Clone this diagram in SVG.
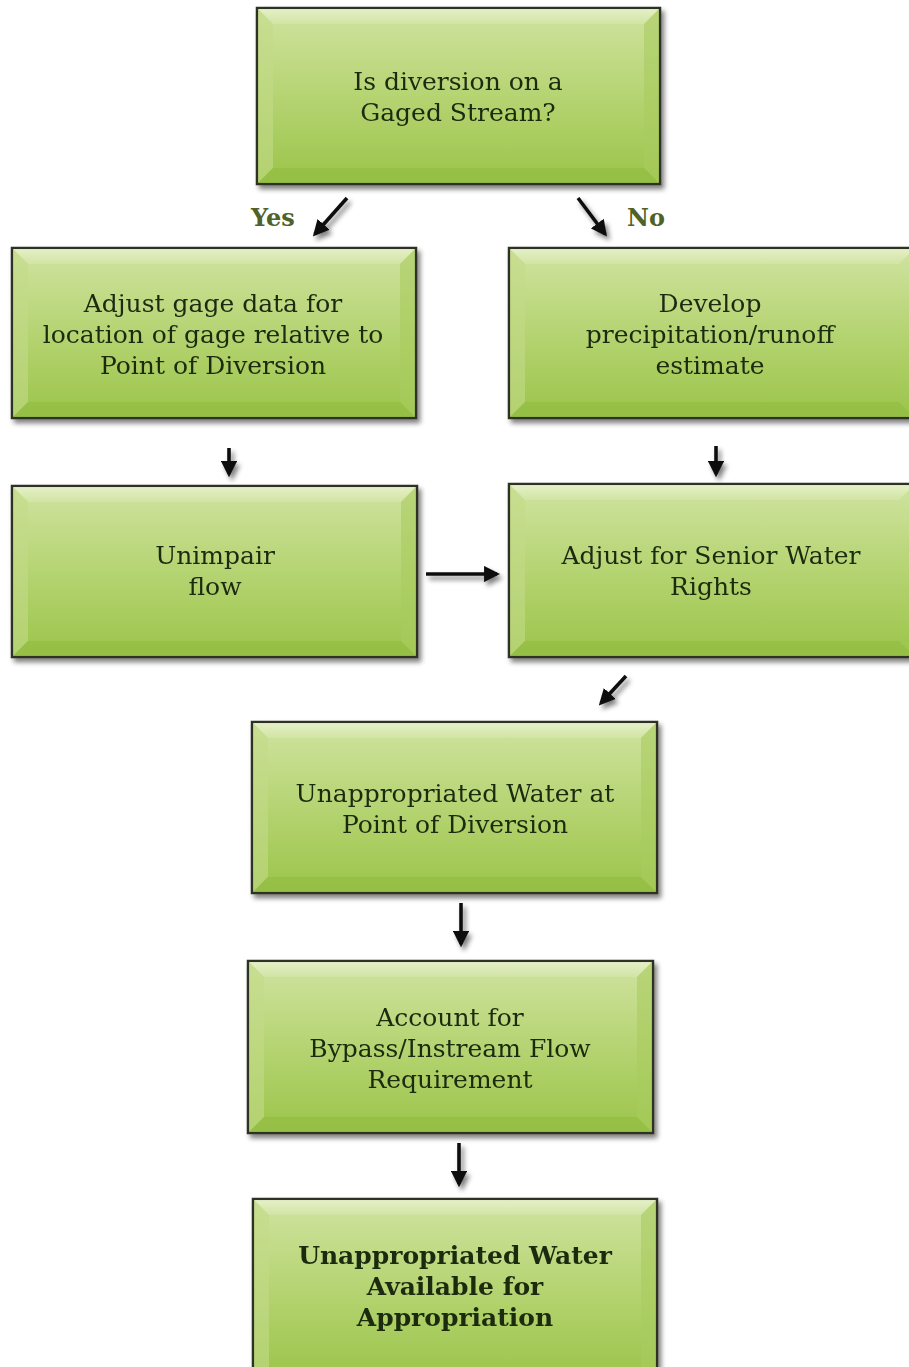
<svg xmlns="http://www.w3.org/2000/svg" width="909" height="1367" viewBox="0 0 909 1367">
<defs>
<linearGradient id="g" x1="0" y1="0" x2="0" y2="1">
<stop offset="0" stop-color="#d0e3a0"/>
<stop offset="0.5" stop-color="#b5d472"/>
<stop offset="1" stop-color="#9cc44a"/>
</linearGradient>
<linearGradient id="gt" x1="0" y1="0" x2="0" y2="1">
<stop offset="0" stop-color="#e8f2cd"/>
<stop offset="1" stop-color="#d3e5a6"/>
</linearGradient>
<filter id="sh" x="-5%" y="-5%" width="115%" height="120%">
<feGaussianBlur in="SourceAlpha" stdDeviation="2.5"/>
<feOffset dx="3" dy="4" result="b"/>
<feComponentTransfer><feFuncA type="linear" slope="0.5"/></feComponentTransfer>
<feMerge><feMergeNode/><feMergeNode in="SourceGraphic"/></feMerge>
</filter>
<marker id="ah" viewBox="0 0 10 10" refX="8" refY="5" markerWidth="4.5" markerHeight="4.5" orient="auto" markerUnits="strokeWidth">
<path d="M0,0 L10,5 L0,10 z" fill="#111"/>
</marker>
</defs>
<style>
.box{fill:url(#g);stroke:#2e3326;stroke-width:2.5}
.top{fill:url(#gt);opacity:0.85}
.lft{fill:#c3db88;opacity:0.6}
.rgt{fill:#a9cc5f;opacity:0.6}
.bot{fill:#93bd42;opacity:0.7}
.t{font-family:"DejaVu Serif","Liberation Serif",serif;font-size:25px;fill:#1c2a10;text-anchor:middle}
.b{font-weight:bold}
.lbl{font-family:"DejaVu Serif","Liberation Serif",serif;font-size:24px;font-weight:bold;fill:#4f6228}
.c{stroke:#111;stroke-width:3.6;fill:none;marker-end:url(#ah)}
</style>

<g id="n1" filter="url(#sh)">
<rect class="box" x="257" y="8" width="403" height="176"/>
<polygon class="top" points="258,9 659,9 644,24 273,24"/>
<polygon class="lft" points="258,9 273,24 273,168 258,183"/>
<polygon class="rgt" points="659,9 644,24 644,168 659,183"/>
<polygon class="bot" points="258,183 273,168 644,168 659,183"/>
<text class="t" x="458" y="90">Is diversion on a</text>
<text class="t" x="458" y="121">Gaged Stream?</text>
</g>

<g id="n2" filter="url(#sh)">
<rect class="box" x="12" y="248" width="404" height="170"/>
<polygon class="top" points="13,249 415,249 400,264 28,264"/>
<polygon class="lft" points="13,249 28,264 28,402 13,417"/>
<polygon class="rgt" points="415,249 400,264 400,402 415,417"/>
<polygon class="bot" points="13,417 28,402 400,402 415,417"/>
<text class="t" x="213" y="312">Adjust gage data for</text>
<text class="t" x="213" y="343">location of gage relative to</text>
<text class="t" x="213" y="374">Point of Diversion</text>
</g>

<g id="n3" filter="url(#sh)">
<rect class="box" x="509" y="248" width="406" height="170"/>
<polygon class="top" points="510,249 914,249 899,264 525,264"/>
<polygon class="lft" points="510,249 525,264 525,402 510,417"/>
<polygon class="bot" points="510,417 525,402 899,402 914,417"/>
<text class="t" x="710" y="312">Develop</text>
<text class="t" x="710" y="343">precipitation/runoff</text>
<text class="t" x="710" y="374">estimate</text>
</g>

<g id="n4" filter="url(#sh)">
<rect class="box" x="12" y="486" width="405" height="171"/>
<polygon class="top" points="13,487 416,487 401,502 28,502"/>
<polygon class="lft" points="13,487 28,502 28,641 13,656"/>
<polygon class="rgt" points="416,487 401,502 401,641 416,656"/>
<polygon class="bot" points="13,656 28,641 401,641 416,656"/>
<text class="t" x="215" y="564">Unimpair</text>
<text class="t" x="215" y="595">flow</text>
</g>

<g id="n5" filter="url(#sh)">
<rect class="box" x="509" y="484" width="406" height="173"/>
<polygon class="top" points="510,485 914,485 899,500 525,500"/>
<polygon class="lft" points="510,485 525,500 525,641 510,656"/>
<polygon class="bot" points="510,656 525,641 899,641 914,656"/>
<text class="t" x="711" y="564">Adjust for Senior Water</text>
<text class="t" x="711" y="595">Rights</text>
</g>

<g id="n6" filter="url(#sh)">
<rect class="box" x="252" y="722" width="405" height="171"/>
<polygon class="top" points="253,723 656,723 641,738 268,738"/>
<polygon class="lft" points="253,723 268,738 268,877 253,892"/>
<polygon class="rgt" points="656,723 641,738 641,877 656,892"/>
<polygon class="bot" points="253,892 268,877 641,877 656,892"/>
<text class="t" x="455" y="802">Unappropriated Water at</text>
<text class="t" x="455" y="833">Point of Diversion</text>
</g>

<g id="n7" filter="url(#sh)">
<rect class="box" x="248" y="961" width="405" height="172"/>
<polygon class="top" points="249,962 652,962 637,977 264,977"/>
<polygon class="lft" points="249,962 264,977 264,1117 249,1132"/>
<polygon class="rgt" points="652,962 637,977 637,1117 652,1132"/>
<polygon class="bot" points="249,1132 264,1117 637,1117 652,1132"/>
<text class="t" x="450" y="1026">Account for</text>
<text class="t" x="450" y="1057">Bypass/Instream Flow</text>
<text class="t" x="450" y="1088">Requirement</text>
</g>

<g id="n8" filter="url(#sh)">
<rect class="box" x="253" y="1199" width="404" height="180"/>
<polygon class="top" points="254,1200 656,1200 641,1215 269,1215"/>
<polygon class="lft" points="254,1200 269,1215 269,1367 254,1367"/>
<polygon class="rgt" points="656,1200 641,1215 641,1367 656,1367"/>
<text class="t b" x="455" y="1264">Unappropriated Water</text>
<text class="t b" x="455" y="1295">Available for</text>
<text class="t b" x="455" y="1326">Appropriation</text>
</g>

<g id="labels">
<text class="lbl" x="251" y="226">Yes</text>
<text class="lbl" x="627" y="226">No</text>
</g>

<g id="connectors" filter="url(#sh)">
<line class="c" x1="347" y1="198" x2="315" y2="234"/>
<line class="c" x1="578" y1="198" x2="605" y2="234"/>
<line class="c" x1="229" y1="448" x2="229" y2="474"/>
<line class="c" x1="716" y1="446" x2="716" y2="474"/>
<line class="c" x1="426" y1="574" x2="497" y2="574"/>
<line class="c" x1="626" y1="676" x2="601" y2="703"/>
<line class="c" x1="461" y1="903" x2="461" y2="944"/>
<line class="c" x1="459" y1="1143" x2="459" y2="1184"/>
</g>
</svg>
